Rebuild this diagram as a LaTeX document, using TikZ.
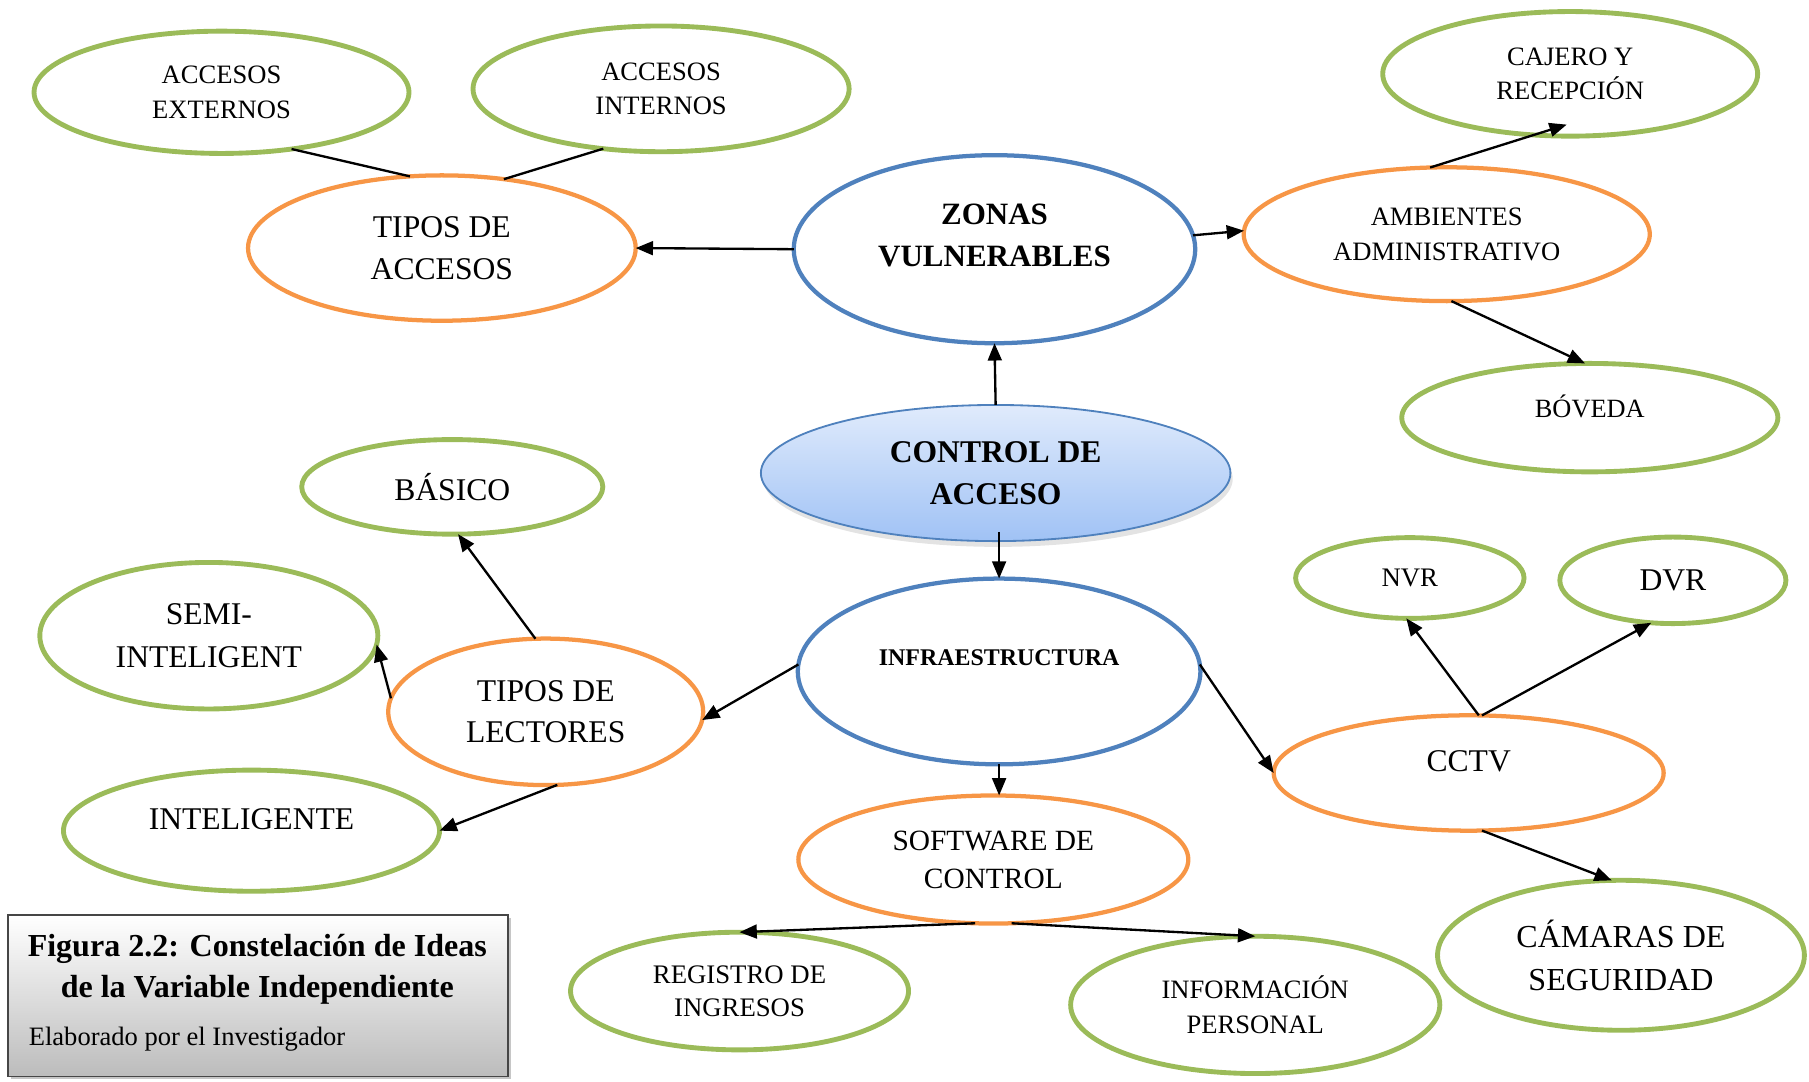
\documentclass[tikz,border=0pt]{standalone}
\usepackage{fontspec}
\setmainfont{Liberation Serif}
\usetikzlibrary{shapes.geometric, arrows.meta, shadows}

\definecolor{leaf}{RGB}{155,187,89}
\definecolor{peach}{RGB}{247,150,70}
\definecolor{steel}{RGB}{79,129,189}
\definecolor{skytop}{RGB}{224,235,252}
\definecolor{skybot}{RGB}{160,194,245}
\definecolor{capgray}{RGB}{188,188,188}
\definecolor{capedge}{RGB}{70,70,70}

\newcommand\fsz[2]{\fontsize{#1}{#2}\selectfont}

\tikzset{
  dims/.style 2 args={minimum width=#1*0.02cm, minimum height=#2*0.02cm},
  bub/.style={ellipse, inner sep=0pt, outer sep=0pt, align=center, fill=white},
  grn/.style={bub, draw=leaf, line width=2.4pt},
  org/.style={bub, draw=peach, line width=2.1pt},
  blu/.style={bub, draw=steel, line width=2.1pt},
  txt/.style={inner sep=0pt, outer sep=0pt, align=center},
  ln/.style={line width=1.15pt, black},
  arr/.style={ln, -{Triangle[length=0.3cm, width=0.24cm]}},
  small/.style={font=\fsz{13.1}{17.1}},
  big/.style={font=\fsz{15.6}{20.5}},
}

\begin{document}
\begin{tikzpicture}[x=0.02cm, y=-0.02cm]
\useasboundingbox (0,0) rectangle (1568,937);

% ---- upper left: types of access
\node[grn, dims={325}{106}, small] (acext) at (192,80) {ACCESOS\\EXTERNOS};
\node[grn, dims={326}{109}, small] (acint) at (573,77) {ACCESOS\\INTERNOS};
\node[org, dims={336}{126}, big] (tacc) at (383,215) {TIPOS DE\\ACCESOS};

% ---- vulnerable zones
\node[blu, dims={348}{163},
      label={[txt, name=zonas-t, font=\fsz{15.3}{20.5}\bfseries, yshift=0.24cm]center:ZONAS\\VULNERABLES}]
      (zonas) at (862,216) {};

% ---- upper right
\node[grn, dims={325}{108}, small] (cajero) at (1361,64) {CAJERO Y\\RECEPCIÓN};
\node[org, dims={352}{116}, small] (amb) at (1254,203) {AMBIENTES\\ADMINISTRATIVO};
\node[grn, dims={326}{94},
      label={[txt, name=bov-t, font=\fsz{13}{17}, yshift=0.2cm]center:BÓVEDA}]
      (bov) at (1378,362) {};

% ---- central concept
\node[ellipse, inner sep=0pt, outer sep=0pt, align=center, dims={407}{118},
      draw=steel, line width=0.9pt, top color=skytop, bottom color=skybot,
      drop shadow={opacity=0.22, shadow xshift=0.04cm, shadow yshift=-0.1cm},
      font=\fsz{15.6}{21}\bfseries] (control) at (863,410) {CONTROL DE\\ACCESO};

% ---- readers
\node[grn, dims={261}{82}, big] (basico) at (392,422) {BÁSICO};
\node[grn, dims={293}{127}, font=\fsz{15.6}{21}] (semi) at (181,551) {SEMI-\\INTELIGENT};
\node[org, dims={273}{127}, big] (lect) at (473,617) {TIPOS DE\\LECTORES};
\node[grn, dims={326}{105},
      label={[txt, name=intel-t, font=\fsz{15.6}{20.5}, yshift=0.2cm]center:INTELIGENTE}]
      (intel) at (218,720) {};

% ---- infrastructure
\node[blu, dims={349}{161},
      label={[txt, name=infra-t, font=\fsz{11.8}{15}\bfseries, yshift=0.24cm]center:INFRAESTRUCTURA}]
      (infra) at (866,582) {};

% ---- software
\node[org, dims={338}{111}, font=\fsz{14.5}{18.8}] (soft) at (861,745) {SOFTWARE DE\\CONTROL};
\node[grn, dims={293}{102}, font=\fsz{13.2}{16.5}] (reg) at (641,859) {REGISTRO DE\\INGRESOS};
\node[grn, dims={320}{119}, small] (info) at (1088,871) {INFORMACIÓN\\PERSONAL};

% ---- CCTV
\node[grn, dims={198}{70}, font=\fsz{13.2}{17}] (nvr) at (1222,501) {NVR};
\node[grn, dims={196}{75}, big] (dvr) at (1450,503) {DVR};
\node[org, dims={338}{100},
      label={[txt, name=cctv-t, font=\fsz{15.6}{20.5}, yshift=0.2cm]center:CCTV}]
      (cctv) at (1273,670) {};
\node[grn, dims={318}{130}, font=\fsz{15.8}{21}] (cam) at (1405,828) {CÁMARAS DE\\SEGURIDAD};

% ---- caption box
\node[rectangle, inner sep=0pt, outer sep=0pt, dims={433}{140},
      top color=white, bottom color=capgray, draw=capedge, line width=0.9pt,
      drop shadow={opacity=0.45, shadow xshift=0.05cm, shadow yshift=-0.05cm}]
      (cap) at (223.5,863) {};
\node[txt, font=\fsz{15.8}{20.5}\bfseries] (cap-title) at (223,840)
      {Figura 2.2: Constelación de Ideas\\de la Variable Independiente};
\node[txt, anchor=base west, font=\fsz{13.1}{17}] (cap-author) at (25,906)
      {Elaborado por el Investigador};

% ---- connectors
\draw[arr] (zonas.west) -- (tacc.east);
\draw[ln]  (tacc.114) -- (acext.-39);
\draw[ln]  (tacc.48) -- (acint.-134);
\draw[arr] (zonas.4) -- (amb.179);
\draw[arr] (amb.104) -- ([shift={(-3,-10)}]cajero.south);
\draw[arr] (amb.-86) -- (bov.95);
\draw[arr] (control.north) -- (zonas.south);
\draw[arr] ([shift={(3,-8)}]control.south) -- (infra.north);
\draw[arr] (infra.178) -- (lect.-3);
\draw[arr] (lect.98) -- (basico.-83);
\draw[arr] (lect.175) -- (semi.-3);
\draw[arr] (lect.-81) -- (intel.east);
\draw[arr] (infra.south) -- (infra.south |- soft.north);
\draw[arr] (infra.2) -- (cctv.west);
\draw[arr] (cctv.80) -- (nvr.-95);
\draw[arr] (cctv.77) -- (dvr.-117);
\draw[arr] (cctv.-77) -- (cam.97);
\draw[arr] (soft.-106) -- (reg.north);
\draw[arr] (soft.-74) -- (info.north);
\end{tikzpicture}
\end{document}
